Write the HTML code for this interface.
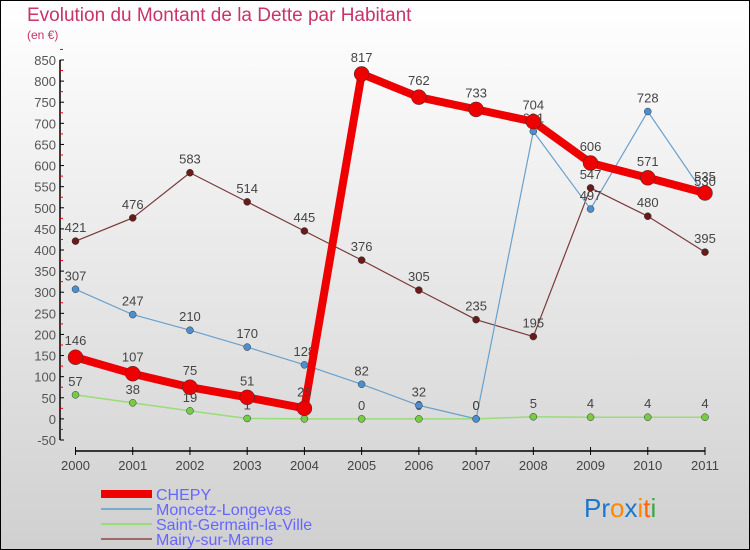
<!DOCTYPE html>
<html><head><meta charset="utf-8"><style>
body{margin:0}
#wrap{position:relative;width:748px;height:548px;border:1px solid #000;background:linear-gradient(#fff,#d0d0d0);font-family:"Liberation Sans",sans-serif;overflow:hidden}
.t{position:absolute;color:#c8336a}
</style></head><body>
<div id="wrap">
<div class="t" style="left:26px;top:4px;font-size:19px">Evolution du Montant de la Dette par Habitant</div>
<div class="t" style="left:26px;top:27px;font-size:12px">(en €)</div>
<svg id="svg" width="748" height="548" style="position:absolute;left:0;top:0"></svg>
</div>
<script>
const years=[2000,2001,2002,2003,2004,2005,2006,2007,2008,2009,2010,2011];
const yTicks=[-50,0,50,100,150,200,250,300,350,400,450,500,550,600,650,700,750,800,850];
const chepy=[146,107,75,51,25,817,762,733,704,606,571,535];
const moncetz=[307,247,210,170,128,82,32,0,681,497,728,530];
const saint=[57,38,19,1,0,0,0,0,5,4,4,4];
const mairy=[421,476,583,514,445,376,305,235,195,547,480,395];
const svg=document.getElementById('svg');
const NS='http://www.w3.org/2000/svg';
function x(i){return 74.5+i*(704-74.5)/11;}
function y(v){return 59+(850-v)*(380/900);}
function mk(t,a,p){const e=document.createElementNS(NS,t);for(const k in a)e.setAttribute(k,a[k]);(p||svg).appendChild(e);return e;}
// axes
let ax=mk('line',{x1:59,y1:y(850),x2:59,y2:y(-50),stroke:'#000','stroke-width':1.5});

yTicks.forEach(v=>{mk('line',{x1:59,y1:y(v),x2:63,y2:y(v),stroke:'#000'});
 mk('line',{x1:59,y1:y(v+25),x2:62,y2:y(v+25),stroke:'#e00'});
 const t=mk('text',{x:55,y:y(v)+5,'text-anchor':'end','font-size':13,fill:'#555'});t.textContent=v;
 });
let xa=mk('line',{x1:x(0),y1:450,x2:x(11),y2:450,stroke:'#000','stroke-width':1.5});

years.forEach((yr,i)=>{mk('line',{x1:x(i),y1:446,x2:x(i),y2:454,stroke:'#000'});
 const t=mk('text',{x:x(i),y:469,'text-anchor':'middle','font-size':13,fill:'#444'});t.textContent=yr;
 });
function series(data,color,w,r,dot,name,labOff){
 const g=mk('g',{});
 mk('polyline',{points:data.map((v,i)=>x(i)+','+y(v)).join(' '),fill:'none',stroke:color,'stroke-width':w,'stroke-linejoin':'round'},g);
 data.forEach((v,i)=>{const c=mk('circle',{cx:x(i),cy:y(v),r:r,fill:dot,stroke:'#333','stroke-width':0.5},g);
  
  const t=mk('text',{x:x(i),y:y(v)-labOff,'text-anchor':'middle','font-size':13,fill:'#444'},g);t.textContent=v;});
}
series(mairy,'#7a3a3a',1.2,3.5,'#6a1a1a','mairy-series',9);
series(saint,'#99dd77',1.5,3.5,'#77cc44','saint-germain-series',9);
series(moncetz,'#6aa0cc',1.2,3.5,'#4a90d0','moncetz-series',9);
series(chepy,'#ee0000',8,7.5,'#ee0000','chepy-series',12);
// legend
const leg=[['CHEPY','#ee0000',8],['Moncetz-Longevas','#7aaacc',2],['Saint-Germain-la-Ville','#99dd77',2],['Mairy-sur-Marne','#a06a6a',2]];
leg.forEach((l,i)=>{const yy=493+i*15;
 const g=mk('g',{});
 mk('line',{x1:100,y1:yy,x2:151,y2:yy,stroke:l[1],'stroke-width':l[2]},g);
 const t=mk('text',{x:155,y:yy+6,'font-size':16,fill:'#6666ff'},g);t.textContent=l[0];});
// logo
const lg=mk('text',{x:583,y:516,'font-size':26,'font-family':'Liberation Sans'});

[['Pr','#1a77cc'],['o','#ff8800'],['x','#1a77cc'],['i','#ff8800'],['t','#ff6600'],['i','#33aa44']].forEach(p=>{const s=mk('tspan',{fill:p[1]},lg);s.textContent=p[0];});
</script>
</body></html>
